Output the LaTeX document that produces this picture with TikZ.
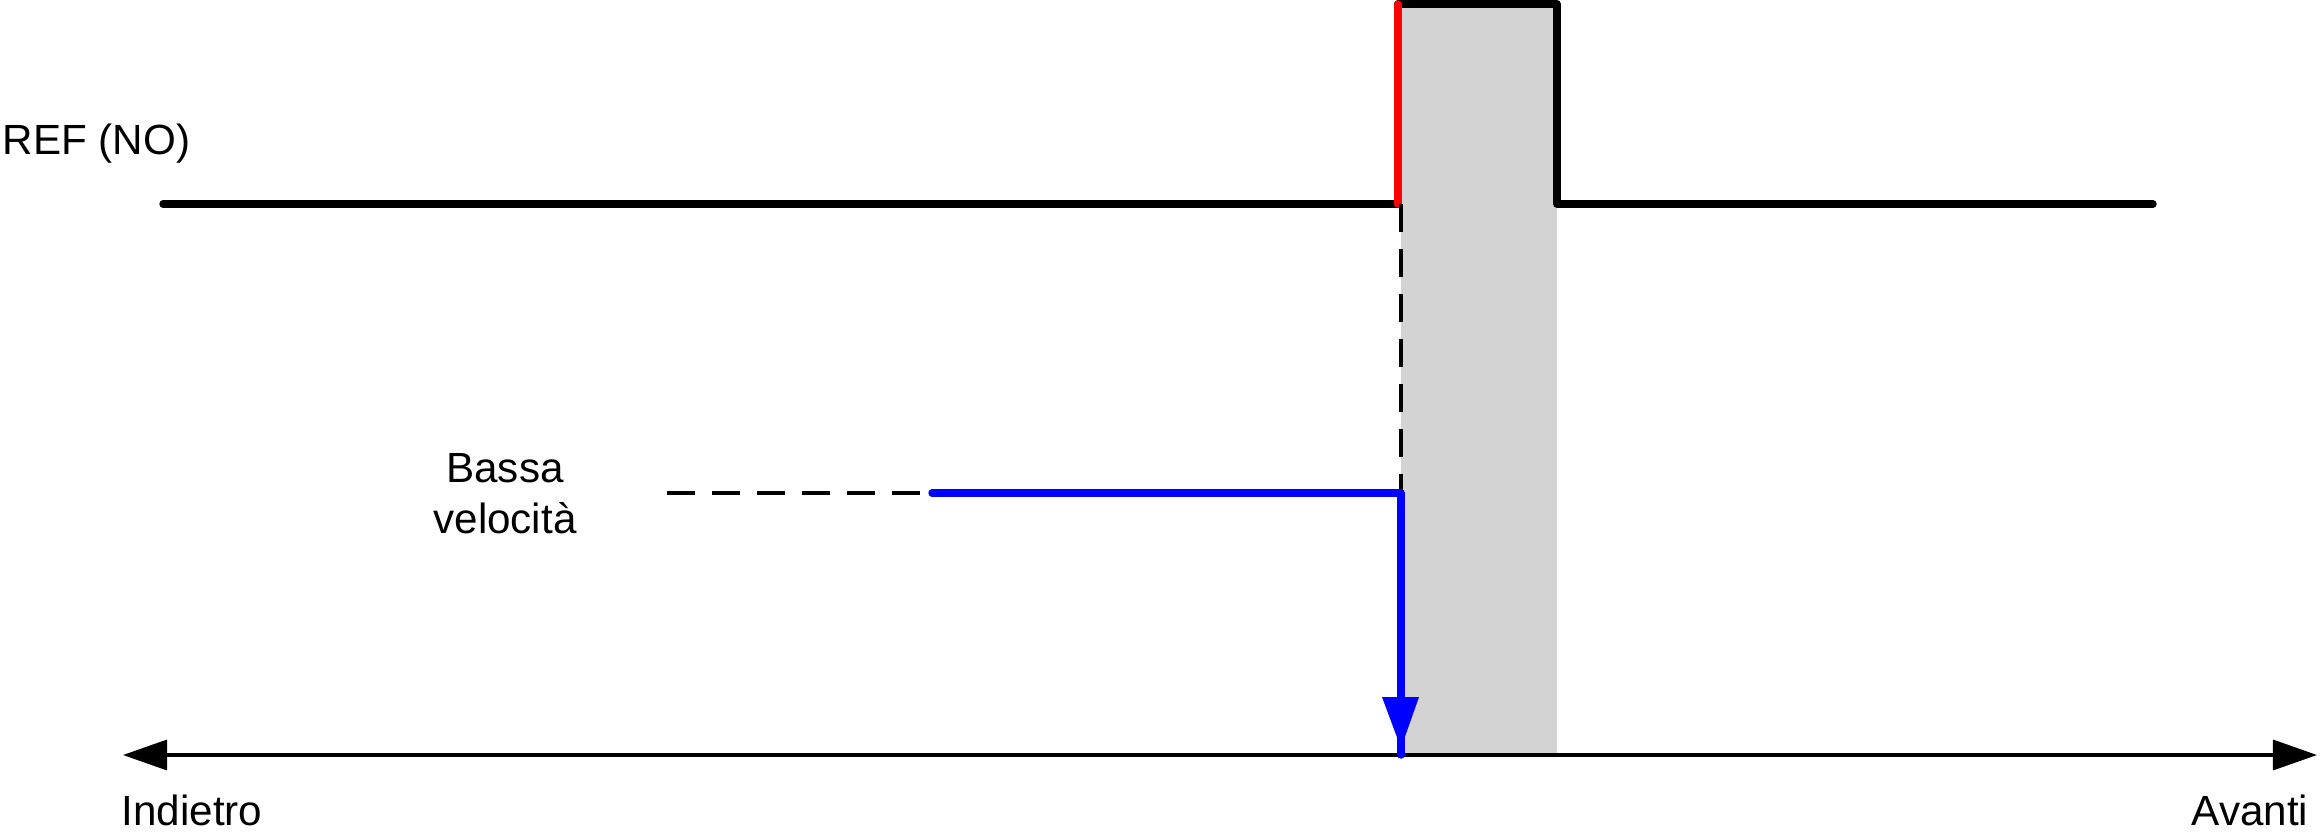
\documentclass[tikz,border=0pt]{standalone}
\usepackage{fontspec}
\setmainfont{Liberation Sans}
\usetikzlibrary{arrows.meta}
\begin{document}
\begin{tikzpicture}[x=0.01cm,y=-0.01cm,
  reflinestyle/.style={line width=2.1pt,line cap=round,line join=round},
  dashstyle/.style={line width=1.3pt,dash pattern=on 0.28cm off 0.17cm},
  bluestyle/.style={draw=blue,line width=2.1pt,line cap=round,line join=round},
  axisstyle/.style={line width=0.95pt,{Triangle[length=4.4mm,width=3mm]}-{Triangle[length=4.4mm,width=3mm]}},
  lbl/.style={inner sep=0pt,font=\fontsize{12}{14.3}\selectfont}]
\useasboundingbox (0,0) rectangle (2320,839);
% coordinates
\coordinate (refL) at (163,204);
\coordinate (edgeB) at (1398,204);
\coordinate (edgeT) at (1398,4);
\coordinate (fallT) at (1557,4);
\coordinate (fallB) at (1557,204);
\coordinate (refR) at (2153,204);
\coordinate (dashTop) at (1401,204);
\coordinate (bluecorner) at (1401,493);
\coordinate (blueL) at (932,493);
\coordinate (blueBot) at (1401,755);
\coordinate (dashL) at (667,493);
\coordinate (dashR) at (922,493);
\coordinate (axL) at (123,755);
\coordinate (axR) at (2317,755);
\coordinate (tipA) at (1382,697);
\coordinate (tipB) at (1419,697);
\coordinate (tipC) at (1401,748);
% gray zone
\fill[fill={rgb,255:red,211;green,211;blue,211}] (1401,4) rectangle (1557,755);
% axis
\draw[axisstyle] (axL) -- (axR);
% REF signal
\draw[reflinestyle] (refL) -- (edgeB) -- (edgeT) -- (fallT) -- (fallB) -- (refR);
\draw[reflinestyle,red] (edgeB) -- (edgeT);
% dashed lines
\draw[dashstyle] (dashTop) -- (bluecorner);
\draw[dashstyle] (dashL) -- (dashR);
% blue speed path
\draw[bluestyle] (blueL) -- (bluecorner) -- (blueBot);
\fill[blue] (tipA) -- (tipB) -- (tipC) -- cycle;
% labels
\node[lbl,anchor=base west] (ref) at (2,154) {REF (NO)};
\node[lbl,anchor=base,align=center] (bassa) at (505,533) {Bassa\\velocità};
\node[lbl,anchor=base west] (indietro) at (121,825) {Indietro};
\node[lbl,anchor=base east] (avanti) at (2309,825) {Avanti};
\end{tikzpicture}
\end{document}
